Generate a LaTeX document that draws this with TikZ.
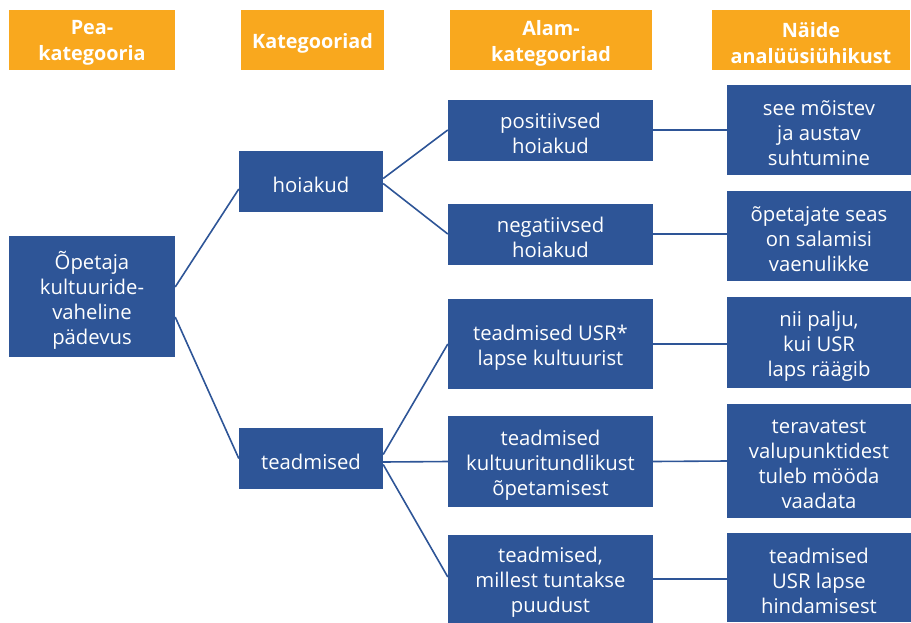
\documentclass[tikz,border=0pt]{standalone}
\usepackage{fontspec}
\setmainfont{Open Sans}
\usetikzlibrary{calc}
\definecolor{cblue}{HTML}{2E5597}
\definecolor{corange}{HTML}{F9A81E}
\begin{document}
\begin{tikzpicture}[x=1pt,y=-1pt,
  txt/.style={text=white,align=center,inner sep=0pt,yshift=-3.5pt,
    font=\fontsize{20.3}{25}\selectfont},
  htxt/.style={text=white,align=center,inner sep=0pt,yshift=-3pt,
    font=\fontsize{19.8}{26}\selectfont\bfseries},
  box/.style={fill=cblue,inner sep=0pt,label={[txt]center:{#1}}},
  head/.style={fill=corange,inner sep=0pt,minimum height=60pt,label={[htxt]center:{#1}}},
  link/.style={draw=cblue,line width=1.6pt}]
\useasboundingbox (0,0) rectangle (911,622);
% headers
\node[head={Pea-\\kategooria},minimum width=166pt] (h1) at (92,40) {};
\node[head={Kategooriad},minimum width=143pt] (h2) at (312.5,40) {};
\node[head={Alam-\\kategooriad},minimum width=202pt] (h3) at (551,40) {};
\node[head={Näide\\analüüsiühikust},minimum width=198pt] (h4) at (811,40) {};
% main
\node[box={Õpetaja\\kultuuride-\\vaheline\\pädevus},minimum width=166pt,minimum height=121pt] (op) at (92,296.5) {};
\node[box={hoiakud},minimum width=144pt,minimum height=61pt] (hoi) at (311,181.5) {};
\node[box={teadmised},minimum width=144pt,minimum height=61pt] (tea) at (311,458.5) {};
% sub
\node[box={positiivsed\\hoiakud},minimum width=205pt,minimum height=61pt] (pos) at (550.5,130) {};
\node[box={negatiivsed\\hoiakud},minimum width=205pt,minimum height=61pt] (neg) at (550.5,234) {};
\node[box={teadmised USR*\\lapse kultuurist},minimum width=205pt,minimum height=90pt] (usr) at (550.5,344) {};
\node[box={teadmised\\kultuuritundlikust\\õpetamisest},minimum width=205pt,minimum height=91pt] (kul) at (550.5,461.5) {};
\node[box={teadmised,\\millest tuntakse\\puudust},minimum width=205pt,minimum height=88pt] (mil) at (550.5,579) {};
% examples
\node[box={see mõistev\\ja austav\\suhtumine},minimum width=184pt,minimum height=90pt] (e1) at (819,130) {};
\node[box={õpetajate seas\\on salamisi\\vaenulikke},minimum width=184pt,minimum height=90pt] (e2) at (819,236) {};
\node[box={nii palju,\\kui USR\\laps räägib},minimum width=184pt,minimum height=91pt] (e3) at (819,342.5) {};
\node[box={teravatest\\valupunktidest\\tuleb mööda\\vaadata},minimum width=184pt,minimum height=114pt] (e4) at (819,461) {};
\node[box={teadmised\\USR lapse\\hindamisest},minimum width=184pt,minimum height=89pt] (e5) at (819,577.5) {};
% links
\draw[link] ($(op.east)+(0,-9.5)$) -- ($(hoi.west)+(0,7.5)$);
\draw[link] ($(op.east)+(0,20.5)$) -- ($(tea.west)+(0,0)$);
\draw[link] ($(hoi.east)+(0,-3)$) -- (pos.west);
\draw[link] ($(hoi.east)+(0,2)$) -- (neg.west);
\draw[link] ($(tea.east)+(0,-4)$) -- (usr.west);
\draw[link] ($(tea.east)+(0,3.5)$) -- (kul.west);
\draw[link] ($(tea.east)+(0,6)$) -- ($(mil.west)+(0,-2)$);
\draw[link] (pos.east) -- (e1.west);
\draw[link] (neg.east) -- ($(e2.west)+(0,-2)$);
\draw[link] (usr.east) -- ($(e3.west)+(0,1.5)$);
\draw[link] (kul.east) -- (e4.west);
\draw[link] (mil.east) -- ($(e5.west)+(0,1.5)$);
\end{tikzpicture}
\end{document}
